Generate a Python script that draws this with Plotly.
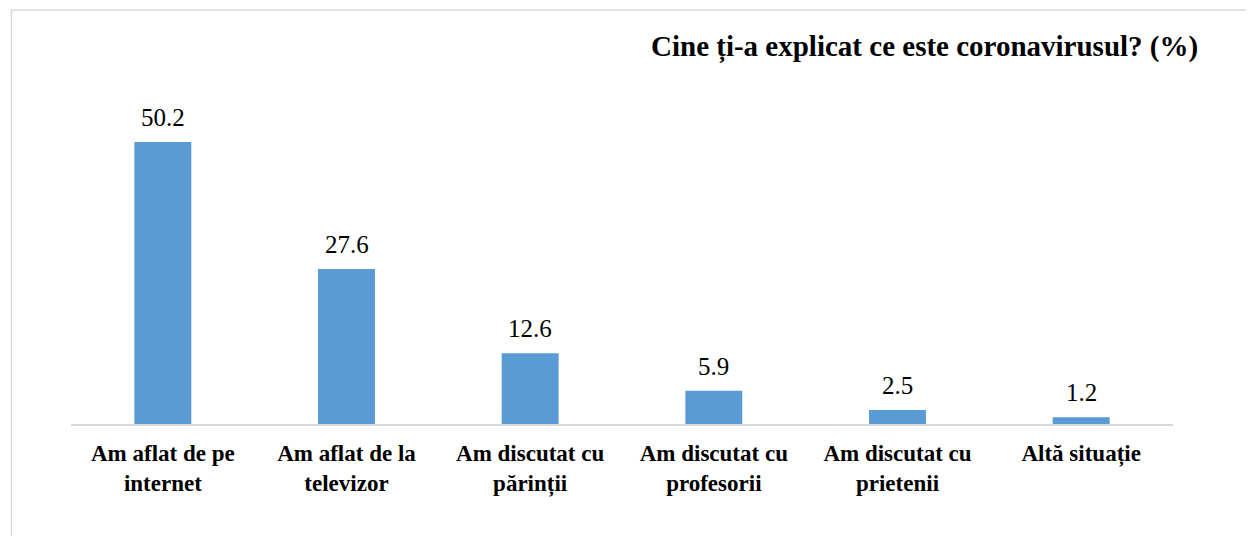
import plotly.graph_objects as go

categories = ["Am aflat de pe<br>internet", "Am aflat de la<br>televizor", "Am discutat cu<br>părinții",
              "Am discutat cu<br>profesorii", "Am discutat cu<br>prietenii", "Altă situație"]
values = [50.2, 27.6, 12.6, 5.9, 2.5, 1.2]
title_text = "Cine ți-a explicat ce este coronavirusul? (%)"

FONT = "Liberation Serif"

fig = go.Figure()
fig.add_trace(go.Bar(x=categories, y=values, marker=dict(color="#5b9bd5", line=dict(width=0)),
                     width=0.31, hoverinfo="x+y"))

for c, v in zip(categories, values):
    fig.add_annotation(x=c, y=v, text=f"{v:.1f}", showarrow=False, yanchor="bottom", yshift=9,
                       font=dict(family=FONT, size=25, color="#000000"))

fig.add_annotation(xref="paper", yref="paper", x=1.0241, y=1.1187, xanchor="right", yanchor="middle",
                   text=f"<b>{title_text}</b>", showarrow=False,
                   font=dict(family=FONT, size=29, color="#000000"))

fig.add_shape(type="rect", xref="paper", yref="paper", x0=-0.054, x1=1.2, y0=-0.6, y1=1.2285,
              line=dict(color="#d9d9d9", width=1.5), fillcolor="rgba(0,0,0,0)", layer="below")

fig.update_layout(
    width=1246, height=528,
    margin=dict(l=62.6, r=80.6, t=79, b=112),
    paper_bgcolor="white", plot_bgcolor="white",
    showlegend=False,
    bargap=0.69,
    xaxis=dict(showline=True, linecolor="#d9d9d9", linewidth=2, ticks="", showgrid=False,
               ticklabelstandoff=7,
               tickfont=dict(family=FONT, size=23, color="#000000", weight="bold")),
    yaxis=dict(range=[0, 60], visible=False, showgrid=False, zeroline=False),
    font=dict(family=FONT),
)

fig.write_html("out.html")
